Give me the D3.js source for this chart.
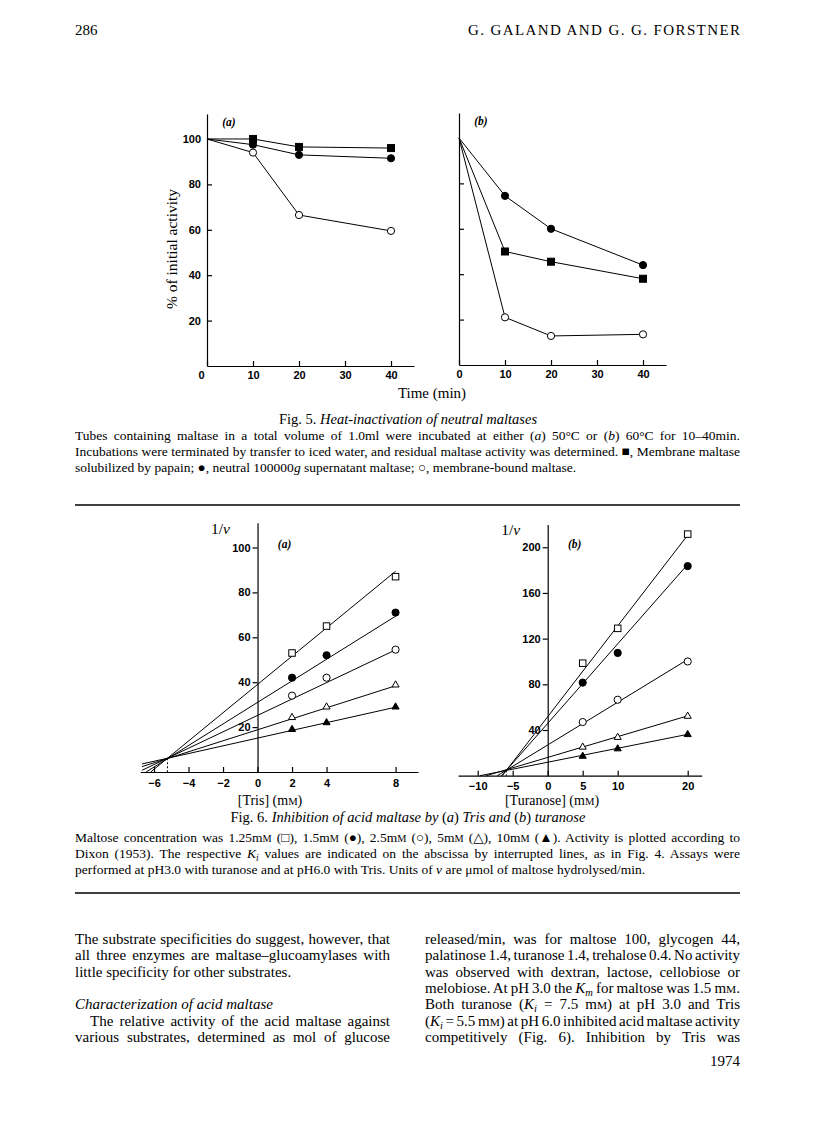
<!DOCTYPE html>
<html>
<head>
<meta charset="utf-8">
<script src="https://cdnjs.cloudflare.com/ajax/libs/d3/7.8.5/d3.min.js"></script>
<style>
  body { margin: 0; background: #fff; }
  svg { display: block; }
</style>
</head>
<body>
<svg id="page"></svg>
<script>
// ---- Fig. 5: heat inactivation, time (min) vs % of initial activity
var times = [0, 10, 20, 40];
var heatA_membraneSol = [100, 100, 96.5, 96];      // filled square
var heatA_supernatant = [100, 97.5, 93, 91.5];     // filled circle
var heatA_membraneBound = [100, 94, 66.5, 59.5];   // open circle
var heatB_membraneSol = [100, 50, 45.5, 38];
var heatB_supernatant = [100, 74.5, 60, 44];
var heatB_membraneBound = [100, 21, 12.8, 13.5];
var heatKinds = ["filledSquare", "filledCircle", "openCircle"];
var heatXTicks = [0, 10, 20, 30, 40];
var heatYTicks = [20, 40, 60, 80, 100];

// ---- Fig. 6: Dixon plots, 1/v vs inhibitor concentration
var dixonKinds = ["openSquare", "filledCircle", "openCircle", "openTriangle", "filledTriangle"];
var trisConc = [2, 4, 8];
var trisInvV = [
  [53, 65, 87],
  [42, 52, 71],
  [34, 42, 54.5],
  [24.5, 29.2, 39],
  [19.2, 22.2, 29.2]
];
var trisFitIntercept = [39, 31, 25.2, 18.8, 15.1];
var trisFitSlope = [6.3, 4.8, 3.65, 2.45, 1.72];
var trisFitStart = [-6.2, -6.45, -6.7, -6.7, -6.7];
var trisFitEnd = 8;
var trisKi = -5.22;
var trisXTicks = [-6, -4, -2, 0, 2, 4, 8];
var trisYTicks = [20, 40, 60, 80, 100];

var turanoseConc = [5, 10, 20];
var turanoseInvV = [
  [98.5, 129, 211.5],
  [81.5, 107.5, 183.5],
  [47, 66.5, 100],
  [25.5, 34, 52.5],
  [17.5, 24, 36.5]
];
var turanoseFitIntercept = [51.6, 45.8, 26.9, 16, 11.8];
var turanoseFitSlope = [7.95, 6.96, 3.74, 1.82, 1.22];
var turanoseFitStart = [-6.5, -6.6, -7.2, -8.8, -9.7];
var turanoseFitEnd = 20;
var turanoseKi = -5.9;
var turanoseXTicks = [-10, -5, 0, 5, 10, 20];
var turanoseYTicks = [40, 80, 120, 160, 200];

var serif = "'Liberation Serif', 'DejaVu Serif', serif";
var sans = "'Liberation Sans', Arial, sans-serif";
var ink = "#000";

var svg = d3.select("#page").attr("width", 816).attr("height", 1136);

// text with light markup: *italic*, {small caps}, _subscript_
function richText(g, x, y, str, size, opts) {
  opts = opts || {};
  var t = g.append("text")
    .attr("x", x).attr("y", y)
    .attr("fill", ink)
    .style("font-family", serif)
    .style("font-size", size + "px");
  if (opts.anchor) t.attr("text-anchor", opts.anchor);
  if (opts.spread) t.attr("textLength", opts.spread).attr("lengthAdjust", "spacing");
  var shift = 0;
  str.split(/(\*[^*]+\*|\{[^}]+\}|_[^_]+_)/).forEach(function(part) {
    if (!part) return;
    var ts = t.append("tspan");
    if (shift) { ts.attr("dy", -shift); shift = 0; }
    if (part[0] == "*") {
      ts.style("font-style", "italic").text(part.slice(1, -1));
    } else if (part[0] == "{") {
      ts.style("font-size", (size * 0.76) + "px").text(part.slice(1, -1));
    } else if (part[0] == "_") {
      shift = 3;
      ts.attr("dy", 3).style("font-style", "italic")
        .style("font-size", (size * 0.7) + "px").text(part.slice(1, -1));
    } else {
      ts.text(part);
    }
  });
  // justify by widening the word gaps
  if (opts.width) {
    var natural = t.node().getComputedTextLength();
    var gaps = (t.text().match(/ /g) || []).length;
    if (gaps) t.style("word-spacing", ((opts.width - natural) / gaps) + "px");
  }
  return t;
}

function drawMarker(g, kind, cx, cy) {
  if (kind == "filledSquare" || kind == "openSquare") {
    var s = kind == "filledSquare" ? 7 : 6.5;
    g.append("rect")
      .attr("x", cx - s / 2).attr("y", cy - s / 2)
      .attr("width", s).attr("height", s)
      .attr("fill", kind == "filledSquare" ? ink : "#fff")
      .attr("stroke", ink).attr("stroke-width", 1);
  } else if (kind == "filledCircle" || kind == "openCircle") {
    g.append("circle")
      .attr("cx", cx).attr("cy", cy).attr("r", 3.6)
      .attr("fill", kind == "filledCircle" ? ink : "#fff")
      .attr("stroke", ink).attr("stroke-width", 1);
  } else {
    g.append("path")
      .attr("d", d3.symbol(d3.symbolTriangle, 22)())
      .attr("transform", "translate(" + cx + "," + (cy + 0.5) + ")")
      .attr("fill", kind == "filledTriangle" ? ink : "#fff")
      .attr("stroke", ink).attr("stroke-width", 1);
  }
}

function styleAxis(g, size) {
  g.attr("font-family", null).attr("font-size", null);
  g.selectAll("text")
    .style("font-family", sans)
    .style("font-size", size + "px")
    .style("font-weight", "bold")
    .attr("fill", ink);
  g.selectAll("line, path").attr("stroke", ink).attr("stroke-width", 1.2);
}

// ---------- Fig. 5 panels ----------
function heatPanel(xr, yr, seriesList, showYLabels, tag) {
  var x = d3.scaleLinear().domain([0, 45]).range(xr);
  var y = d3.scaleLinear().domain([0, 111]).range(yr);
  var g = svg.append("g");

  var yAxis = d3.axisLeft(y)
    .tickValues(showYLabels ? heatYTicks : heatYTicks.slice(0, 4))
    .tickSizeInner(-5).tickSizeOuter(0).tickPadding(6);
  if (!showYLabels) yAxis.tickFormat("");
  var ya = g.append("g").attr("transform", "translate(" + xr[0] + ",0)").call(yAxis);
  styleAxis(ya, 11);

  var xa = g.append("g").attr("transform", "translate(0," + yr[0] + ")")
    .call(d3.axisBottom(x).tickValues(heatXTicks)
      .tickSizeInner(-5).tickSizeOuter(0).tickPadding(5));
  styleAxis(xa, 11);
  if (showYLabels) xa.selectAll(".tick text").filter(function(d) { return d == 0; }).attr("dx", -6);

  var line = d3.line()
    .x(function(d, i) { return x(times[i]); })
    .y(function(d) { return y(d); });

  seriesList.forEach(function(vals) {
    g.append("path").datum(vals)
      .attr("d", line)
      .attr("fill", "none").attr("stroke", ink).attr("stroke-width", 1);
  });
  seriesList.forEach(function(vals, k) {
    vals.forEach(function(v, i) {
      if (i == 0) return;
      drawMarker(g, heatKinds[k], x(times[i]), y(v));
    });
  });

  richText(g, xr[0] + 22, yr[1] + 12, "*(" + tag + ")*", 11.5, { anchor: "middle" })
    .style("font-weight", "bold");
}

heatPanel([207, 414], [366, 114],
  [heatA_membraneSol, heatA_supernatant, heatA_membraneBound], true, "a");
heatPanel([459, 666], [365, 113],
  [heatB_membraneSol, heatB_supernatant, heatB_membraneBound], false, "b");

svg.append("text")
  .attr("transform", "translate(177,249) rotate(-90)")
  .attr("text-anchor", "middle")
  .attr("fill", ink)
  .style("font-family", serif).style("font-size", "15.5px")
  .text("% of initial activity");
richText(svg, 432, 398, "Time (min)", 15, { anchor: "middle" });

// ---------- Fig. 6 panels ----------
function dixonPanel(o) {
  var x = d3.scaleLinear().domain(o.xDomain).range(o.xRange);
  var y = d3.scaleLinear().domain(o.yDomain).range(o.yRange);
  var g = svg.append("g");

  var ya = g.append("g").attr("transform", "translate(" + x(0) + ",0)")
    .call(d3.axisLeft(y).tickValues(o.yTicks)
      .tickSizeInner(5).tickSizeOuter(0).tickPadding(2));
  styleAxis(ya, 11);

  var xa = g.append("g").attr("transform", "translate(0," + y(0) + ")")
    .call(d3.axisBottom(x).tickValues(o.xTicks)
      .tickSizeInner(-5).tickSizeOuter(0).tickPadding(7));
  styleAxis(xa, 11);

  // fitted lines
  o.intercept.forEach(function(b, k) {
    var m = o.slope[k];
    var xs = [o.start[k], o.end];
    g.append("path").datum(xs)
      .attr("d", d3.line()
        .x(function(d) { return x(d); })
        .y(function(d) { return y(b + m * d); }))
      .attr("fill", "none").attr("stroke", ink).attr("stroke-width", 1);
  });

  // Ki marker (interrupted line)
  var yKi = o.intercept[0] + o.slope[0] * o.ki;
  g.append("line")
    .attr("x1", x(o.ki)).attr("x2", x(o.ki))
    .attr("y1", y(yKi)).attr("y2", y(0))
    .attr("stroke", ink).attr("stroke-width", 1)
    .attr("stroke-dasharray", "2,2");

  o.values.forEach(function(vals, k) {
    vals.forEach(function(v, i) {
      drawMarker(g, dixonKinds[k], x(o.conc[i]), y(v));
    });
  });

  richText(g, x(0) - 37, o.yRange[1] + 11, "1/*v*", 15.5, { anchor: "middle" });
  richText(g, x(0) + 27, y(o.yTicks[o.yTicks.length - 1]) + 1, "*(" + o.tag + ")*", 11.5, { anchor: "middle" })
    .style("font-weight", "bold");
  richText(g, o.labelX, 805, o.label, 14, { anchor: "middle" });
}

dixonPanel({
  xDomain: [-6.8, 9.3], xRange: [140.2, 418],
  yDomain: [0, 111], yRange: [772, 522.8],
  xTicks: trisXTicks, yTicks: trisYTicks,
  conc: trisConc, values: trisInvV,
  intercept: trisFitIntercept, slope: trisFitSlope,
  start: trisFitStart, end: trisFitEnd, ki: trisKi,
  tag: "a", label: "[Tris] (m{M})", labelX: 270
});
dixonPanel({
  xDomain: [-12.8, 22], xRange: [458.1, 701.7],
  yDomain: [0, 220], yRange: [775.7, 524.4],
  xTicks: turanoseXTicks, yTicks: turanoseYTicks,
  conc: turanoseConc, values: turanoseInvV,
  intercept: turanoseFitIntercept, slope: turanoseFitSlope,
  start: turanoseFitStart, end: turanoseFitEnd, ki: turanoseKi,
  tag: "b", label: "[Turanose] (m{M})", labelX: 552
});

// ---------- page text ----------
var L = 75, R = 740;
richText(svg, L, 35, "286", 15);
richText(svg, R, 35, "G. GALAND AND G. G. FORSTNER", 15, { anchor: "end", spread: 272 });

richText(svg, 408, 424, "Fig. 5. *Heat-inactivation of neutral maltases*", 14.5, { anchor: "middle" });
var fig5Lines = [
  "Tubes containing maltase in a total volume of 1.0ml were incubated at either (*a*) 50°C or (*b*) 60°C for 10–40min.",
  "Incubations were terminated by transfer to iced water, and residual maltase activity was determined. ■, Membrane maltase",
  "solubilized by papain; ●, neutral 100000*g* supernatant maltase; ○, membrane-bound maltase."
];
fig5Lines.forEach(function(s, i) {
  richText(svg, L, 440 + i * 16, s, 13.5, i < 2 ? { width: R - L } : {});
});
svg.append("line").attr("x1", L).attr("x2", R).attr("y1", 505).attr("y2", 505)
  .attr("stroke", ink).attr("stroke-width", 1.6);

richText(svg, 408, 822, "Fig. 6. *Inhibition of acid maltase by* (*a*) *Tris and* (*b*) *turanose*", 14.5, { anchor: "middle" });
var fig6Lines = [
  "Maltose concentration was 1.25m{M} (□), 1.5m{M} (●), 2.5m{M} (○), 5m{M} (△), 10m{M} (▲). Activity is plotted according to",
  "Dixon (1953). The respective *K*_i_ values are indicated on the abscissa by interrupted lines, as in Fig. 4. Assays were",
  "performed at pH3.0 with turanose and at pH6.0 with Tris. Units of *v* are μmol of maltose hydrolysed/min."
];
fig6Lines.forEach(function(s, i) {
  richText(svg, L, 842 + i * 16, s, 13.5, i < 2 ? { width: R - L } : {});
});
svg.append("line").attr("x1", L).attr("x2", R).attr("y1", 893).attr("y2", 893)
  .attr("stroke", ink).attr("stroke-width", 1.6);

// body columns
var colW = 315;
var leftCol = [
  { t: "The substrate specificities do suggest, however, that", j: true },
  { t: "all three enzymes are maltase–glucoamylases with", j: true },
  { t: "little specificity for other substrates." },
  null,
  { t: "*Characterization of acid maltase*" },
  { t: "The relative activity of the acid maltase against", j: true, ind: 15 },
  { t: "various substrates, determined as mol of glucose", j: true }
];
var rightCol = [
  "released/min, was for maltose 100, glycogen 44,",
  "palatinose 1.4, turanose 1.4, trehalose 0.4. No activity",
  "was observed with dextran, lactose, cellobiose or",
  "melobiose. At pH 3.0 the *K*_m_ for maltose was 1.5 m{M}.",
  "Both turanose (*K*_i_ = 7.5 m{M}) at pH 3.0 and Tris",
  "(*K*_i_ = 5.5 m{M}) at pH 6.0 inhibited acid maltase activity",
  "competitively (Fig. 6). Inhibition by Tris was"
];
leftCol.forEach(function(l, i) {
  if (!l) return;
  var ind = l.ind || 0;
  richText(svg, L + ind, 944 + i * 16.35, l.t, 15, l.j ? { width: colW - ind } : {});
});
rightCol.forEach(function(s, i) {
  richText(svg, 425, 944 + i * 16.35, s, 15, { width: colW });
});
richText(svg, R, 1066, "1974", 15, { anchor: "end" });
</script>
</body>
</html>
